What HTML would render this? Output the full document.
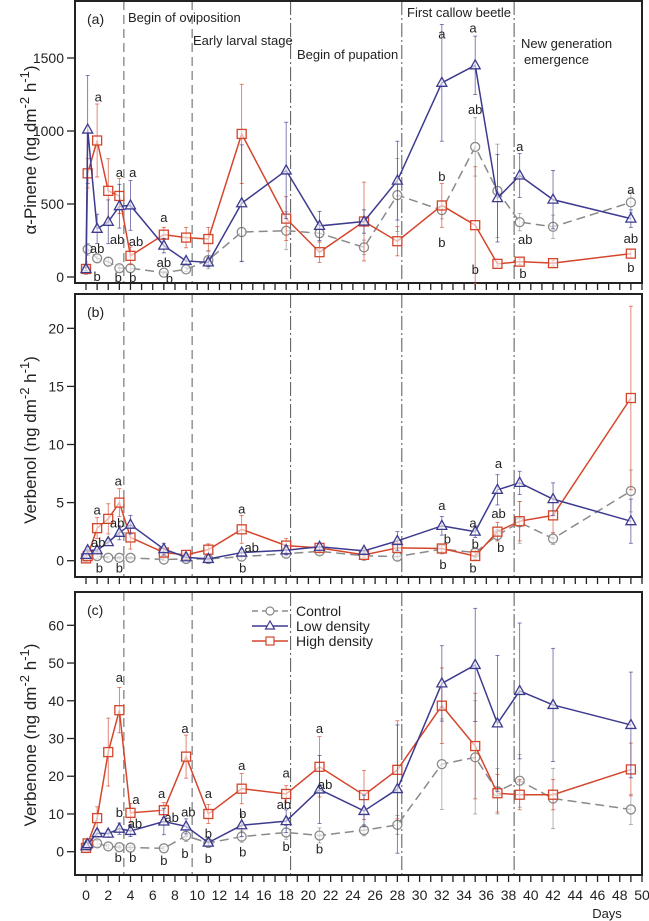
<!DOCTYPE html>
<html><head><meta charset="utf-8"><style>
html,body{margin:0;padding:0;background:#fff;}
svg{display:block;font-family:"Liberation Sans",Arial,sans-serif;}
</style></head><body>
<svg id="chart" width="649" height="921" viewBox="0 0 649 921"></svg>
<script>
const days = [0,0.15,1,2,3,4,7,9,11,14,18,21,25,28,32,35,37,39,42,49];
const aControl = [50,190,128,105,60,60,30,52,116,308,317,300,203,561,458,891,590,376,344,511];
const aLow = [55,1010,330,378,485,490,215,110,100,505,730,350,380,660,1330,1450,540,695,530,400];
const aHigh = [55,710,935,590,555,145,290,270,260,980,400,170,380,245,490,355,90,105,95,160];
const aControlErr = [10,40,30,30,20,20,10,15,60,200,130,60,50,250,60,200,320,60,80,70];
const aLowErr = [10,370,100,150,150,170,50,20,30,400,330,100,80,270,400,200,300,150,200,60];
const aHighErr = [10,100,250,220,120,60,50,70,80,340,150,70,270,100,150,400,15,20,20,30];
const bControl = [0.3,0.5,0.4,0.25,0.25,0.25,0.1,0.15,0.15,0.35,0.6,0.8,0.43,0.35,1.0,0.7,2.2,3.3,1.9,6.0];
const bLow = [0.5,0.9,0.9,1.6,2.4,3.1,1.0,0.3,0.15,0.7,0.9,1.2,0.85,1.7,3.0,2.5,6.1,6.7,5.3,3.4];
const bHigh = [0.2,0.4,2.8,3.6,5.0,2.0,0.7,0.5,0.95,2.7,1.3,1.1,0.5,1.1,1.05,0.4,2.5,3.4,3.9,14.0];
const bControlErr = [0.1,0.2,0.2,0.1,0.1,0.1,0.1,0.1,0.1,0.3,0.3,0.3,0.2,0.3,0.4,0.3,0.5,1.8,0.5,1.8];
const bLowErr = [0.1,0.3,0.3,0.3,0.6,0.8,0.5,0.2,0.1,0.3,0.4,0.3,0.2,0.8,0.8,0.5,1.3,1.0,1.4,1.9];
const bHighErr = [0.1,0.2,0.9,1.3,1.2,1.0,0.3,0.2,0.5,1.2,0.6,0.3,0.2,0.4,0.3,0.3,0.8,1.7,1.5,7.9];
const cControl = [1,1.5,2.2,1.4,1.2,1.1,0.9,4.2,2.3,4.0,5.1,4.3,5.7,7.1,23.2,25,16,18.8,14.1,11.2];
const cLow = [1.5,2,4.9,4.8,6.1,5.5,8,6.7,2.4,7,8.1,16.5,10.8,16.6,44.6,49.5,34,42.6,38.9,33.6];
const cHigh = [1,2.2,8.9,26.4,37.5,10.3,11,25.2,10,16.7,15.3,22.5,15,21.7,38.7,28,15.5,15.1,15.1,21.8];
const cControlErr = [0.3,0.5,0.8,0.5,0.5,0.5,0.5,1.5,0.8,1.5,1.8,2,1.5,2.5,12,15,6,7,8,4];
const cLowErr = [0.3,0.5,1,1,1.5,1.5,3.5,2,0.8,3,3,9,4.2,17,10,15,18,18,15,14];
const cHighErr = [0.3,0.5,3,9,6,2.5,2,5.7,2.5,4,2.2,8,6.5,13,10,14,5,4,4,7];
const aTicks = [0,500,1000,1500];
const bTicks = [0,5,10,15,20];
const cTicks = [0,10,20,30,40,50,60];
const xTickLabels = [0,2,4,6,8,10,12,14,16,18,20,22,24,26,28,30,32,34,36,38,40,42,44,46,48,50];
const stageDays = [3.4,9.55,18.4,28.4,38.5];
const aLetters = [[1.1,1238,'a'],[1,198,'ab'],[1,7,'b'],[3,718,'a'],[4.2,718,'a'],[2.8,260,'ab'],[4.5,246,'ab'],[2.9,0,'b'],[4.2,0,'b'],[7,410,'a'],[7,103,'ab'],[7.5,-7,'b'],[32,1669,'a'],[34.8,1710,'a'],[35,1149,'ab'],[32,691,'b'],[32,240,'b'],[35,55,'b'],[39,896,'a'],[39.5,260,'ab'],[39.3,27,'b'],[49,602,'a'],[49,267,'ab'],[49,68,'b']];
const bLetters = [[1,4.4,'a'],[1.1,1.6,'ab'],[1.2,-0.6,'b'],[2.9,6.9,'a'],[2.8,3.3,'ab'],[3,-0.6,'b'],[14,4.5,'a'],[14.9,1.2,'ab'],[14.1,-0.6,'b'],[32,4.8,'a'],[32.5,1.9,'b'],[32.1,-0.3,'b'],[34.8,3.3,'a'],[35,1.5,'b'],[34.8,-0.6,'b'],[37.1,8.4,'a'],[37.1,4.1,'ab'],[37.3,1.2,'b']];
const cLetters = [[3,46.3,'a'],[4.5,14,'a'],[4.4,7.6,'ab'],[3,10.5,'b'],[2.9,-1.4,'b'],[4.2,-1.4,'b'],[6.8,15.6,'a'],[7.7,9.2,'ab'],[7,-2.2,'b'],[8.9,32.8,'a'],[9.2,10.6,'ab'],[8.9,-0.3,'b'],[11,15.6,'a'],[11,4.9,'b'],[11,-1.7,'b'],[14,23,'a'],[14.1,10.3,'b'],[14.1,0,'b'],[18,21,'a'],[17.8,12.7,'ab'],[18,1.5,'b'],[21,32.8,'a'],[21.5,18,'ab'],[21,0.8,'b']];

const NS='http://www.w3.org/2000/svg';
const svg=document.getElementById('chart');
const GRAY='#8a8a8a', BLUE='#3d3b8e', RED='#d4462c';
function mk(tag,attrs,parent){const e=document.createElementNS(NS,tag);for(const k in attrs)e.setAttribute(k,attrs[k]);(parent||svg).appendChild(e);return e;}
const X0=75,X1=642;
function xs(d){return 86+d*11.12;}

const panels=[
 {key:'a',top:1,bot:283,zeroY:277,unit:219/1500,ticks:aTicks,ctrl:aControl,low:aLow,high:aHigh,ce:aControlErr,le:aLowErr,he:aHighErr,letters:aLetters,title:'α-Pinene (ng dm',cy:150,label:'(a)'},
 {key:'b',top:294,bot:577,zeroY:560.7,unit:232.4/20,ticks:bTicks,ctrl:bControl,low:bLow,high:bHigh,ce:bControlErr,le:bLowErr,he:bHighErr,letters:bLetters,title:'Verbenol (ng dm',cy:440,label:'(b)'},
 {key:'c',top:592,bot:875,zeroY:851.7,unit:226.4/60,ticks:cTicks,ctrl:cControl,low:cLow,high:cHigh,ce:cControlErr,le:cLowErr,he:cHighErr,letters:cLetters,title:'Verbenone (ng dm',cy:735,label:'(c)'}
];

panels.forEach(p=>{
 const g=mk('g',{});
 
 
 const ys=v=>p.zeroY-v*p.unit;
 // stage lines
 stageDays.forEach((d,i)=>{
  const l=mk('line',{x1:xs(d),x2:xs(d),y1:p.top,y2:p.bot,stroke:i<2?'#9a9a9a':'#555','stroke-width':i<2?1.6:1,'stroke-dasharray':i<2?'9,5':'14,3,2,3'},g);
  
  
 });
 // frame
 const fr=mk('rect',{x:X0,y:p.top,width:X1-X0,height:p.bot-p.top,fill:'none',stroke:'#222','stroke-width':2},g);
 
 
 // x ticks
 for(let d=0;d<=50;d++){mk('line',{x1:xs(d),x2:xs(d),y1:p.bot,y2:p.bot+7,stroke:'#222','stroke-width':1.3},g);}
 // y ticks
 p.ticks.forEach(t=>{
  mk('line',{x1:X0-8,x2:X0,y1:ys(t),y2:ys(t),stroke:'#222','stroke-width':1.3},g);
  const tx=mk('text',{x:X0-11,y:ys(t)+5,'text-anchor':'end','font-size':14,fill:'#222'},g);
  tx.textContent=t;
  
  
 });
 // y title
 const yt=mk('text',{x:0,y:0,transform:`translate(36,${p.cy}) rotate(-90)`,'text-anchor':'middle','font-size':17,fill:'#222'},g);
 yt.innerHTML=p.title+'<tspan dy="-7" font-size="13">-2</tspan><tspan dy="7"> h</tspan><tspan dy="-7" font-size="13">-1</tspan><tspan dy="7">)</tspan>';
 
 
 const pl=mk('text',{x:87,y:p.top+23,'font-size':14,fill:'#222'},g);
 pl.textContent=p.label;
 
 
 // series
 const series=[[p.ctrl,p.ce,GRAY,'control','circle'],[p.high,p.he,RED,'high-density','square'],[p.low,p.le,BLUE,'low-density','tri']];
 series.forEach(([vals,errs,col,name,shape])=>{
  const sg=mk('g',{},g);
  
  
  vals.forEach((v,i)=>{
   const x=xs(days[i]);
   const e=mk('line',{x1:x,x2:x,y1:ys(v-errs[i]),y2:ys(v+errs[i]),stroke:col,'stroke-width':0.8,opacity:0.8},sg);
   
   
   [v-errs[i],v+errs[i]].forEach(w=>mk('line',{x1:x-2,x2:x+2,y1:ys(w),y2:ys(w),stroke:col,'stroke-width':0.8,opacity:0.8},sg));
  });
  const pts=vals.map((v,i)=>xs(days[i])+','+ys(v)).join(' ');
  const pl2=mk('polyline',{points:pts,fill:'none',stroke:col,'stroke-width':1.5,'stroke-dasharray':shape==='circle'?'9,5':'none'},sg);
  
  
  vals.forEach((v,i)=>{
   const x=xs(days[i]),y=ys(v);let m;
   if(shape==='circle')m=mk('circle',{cx:x,cy:y,r:4.5,fill:'#fff','fill-opacity':0.6,stroke:col,'stroke-width':1.3},sg);
   else if(shape==='square')m=mk('rect',{x:x-4.5,y:y-4.5,width:9,height:9,fill:'#fff','fill-opacity':0.6,stroke:col,'stroke-width':1.3},sg);
   else m=mk('polygon',{points:`${x},${y-5.5} ${x-5},${y+3.5} ${x+5},${y+3.5}`,fill:'#fff','fill-opacity':0.6,stroke:col,'stroke-width':1.3},sg);
   
   
  });
 });
 // letters
 p.letters.forEach(([d,v,t])=>{
  const lt=mk('text',{x:xs(d),y:ys(v)+5,'text-anchor':'middle','font-size':13,fill:'#222'},g);
  lt.textContent=t;
  
  
 });
});
// x tick labels
xTickLabels.forEach(t=>{
 const tx=mk('text',{x:xs(t),y:900,'text-anchor':'middle','font-size':14,fill:'#222'});
 tx.textContent=t;
 
 
});
const dl=mk('text',{x:607,y:918,'text-anchor':'middle','font-size':13,fill:'#222'});
dl.textContent='Days';


// stage labels
const stageLabels=[['Begin of oviposition',128,22],['Early larval stage',193,45],['Begin of pupation',297,59],['First callow beetle',407,17],['New generation',521,48],['emergence',524,64]];
stageLabels.forEach(([t,x,y])=>{
 const s=mk('text',{x:x,y:y,'font-size':13,fill:'#222'});
 s.textContent=t;
 
 
});
// legend
const lg=mk('g',{});


[['Control',GRAY,'circle',611],['Low density',BLUE,'tri',626],['High density',RED,'square',641]].forEach(([t,col,sh,y])=>{
 const eg=mk('g',{},lg);
 
 
 mk('line',{x1:252,x2:288,y1:y,y2:y,stroke:col,'stroke-width':1.5,'stroke-dasharray':sh==='circle'?'6,4':'none'},eg);
 const x=270;
 if(sh==='circle')mk('circle',{cx:x,cy:y,r:4,fill:'#fff',stroke:col,'stroke-width':1.2},eg);
 else if(sh==='square')mk('rect',{x:x-4,y:y-4,width:8,height:8,fill:'#fff',stroke:col,'stroke-width':1.2},eg);
 else mk('polygon',{points:`${x},${y-5} ${x-4.5},${y+3} ${x+4.5},${y+3}`,fill:'#fff',stroke:col,'stroke-width':1.2},eg);
 const tx=mk('text',{x:296,y:y+5,'font-size':14,fill:'#222'},eg);
 tx.textContent=t;
});
</script>
</body></html>
